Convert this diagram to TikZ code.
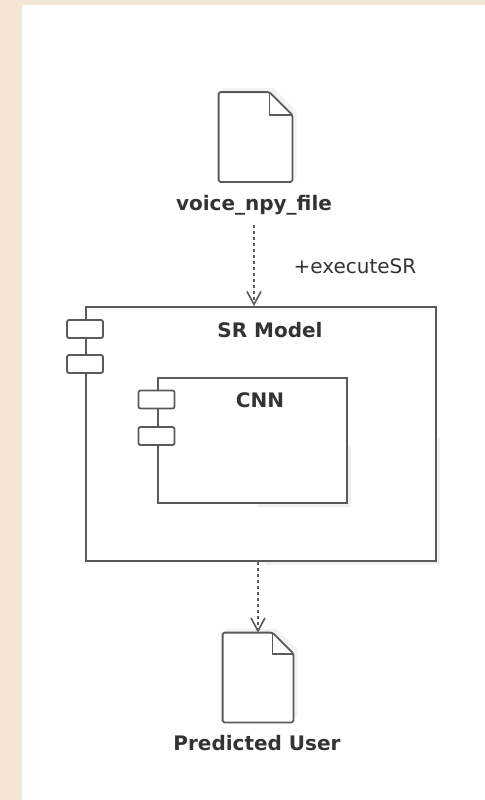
\documentclass[tikz,border=0pt]{standalone}
\usepackage{fontspec}
\setmainfont{DejaVu Sans}
\usetikzlibrary{arrows.meta}
\definecolor{beige}{HTML}{F4E5D4}
\definecolor{umlline}{HTML}{5A5A5A}
\definecolor{umltext}{HTML}{333333}
\begin{document}
\begin{tikzpicture}[x=0.5pt,y=-0.5pt]

\tikzset{artifact/.style={rectangle,inner sep=0pt,draw=none},}
\tikzset{component/.style={rectangle,draw=umlline,line width=0.9pt,fill=white,inner sep=0pt},}
\tikzset{port/.style={rectangle,draw=umlline,line width=0.9pt,fill=white,rounded corners=1pt,minimum width=18pt,minimum height=9pt,inner sep=0pt},}
\tikzset{lbl/.style={text=umltext,font=\bfseries,inner sep=5pt},}
\tikzset{dep/.style={umlline,line width=0.8pt,dash pattern=on 1.5pt off 1.5pt,-{Straight Barb[length=6.5pt,width=7pt,line width=0.8pt]}},}

  % background
  \fill[beige] (0,0) rectangle (485,800);
  \fill[white] (22,5) rectangle (485,800);
  \useasboundingbox (0,0) rectangle (485,800);

  % artifact outline (name, fold)
  \newcommand{\docshape}[2]{
    \fill[black!5] ([shift={(2pt,2pt)}]#1.north west) -- ([shift={(2pt-#2,2pt)}]#1.north east) -- ([shift={(2pt,2pt-#2)}]#1.north east) -- ([shift={(2pt,2pt)}]#1.south east) -- ([shift={(2pt,2pt)}]#1.south west) -- cycle;
    \draw[umlline,line width=0.9pt,fill=white,rounded corners=0.8pt] (#1.north west) -- ([xshift=-#2]#1.north east) -- ([yshift=-#2]#1.north east) -- (#1.south east) -- (#1.south west) -- cycle;
    \draw[umlline,line width=0.9pt] ([xshift=-#2]#1.north east) -- ([xshift=-#2,yshift=-#2]#1.north east) -- ([yshift=-#2]#1.north east);
  }

  \draw (255.5,137) node[artifact,minimum width=36.5pt,minimum height=44.5pt](voice) {};
  \docshape{voice}{11.5pt}
  \draw (254,205) node[lbl](voicelbl) {voice\_npy\_file};

  % SR Model component
  \fill[black!5] (265,438) rectangle (440,565);
  \draw (261,434) node[component,minimum width=175pt,minimum height=127pt](sr) {};
  \draw (270,330) node[lbl,inner sep=0pt](srlbl) {SR Model};
  \draw (85,329) node[port](srp1) {};
  \draw (85,364) node[port](srp2) {};

  % CNN component
  \fill[black!5] (256.5,444.5) rectangle (351,507);
  \draw (252.5,440.5) node[component,minimum width=94.5pt,minimum height=62.5pt](cnn) {};
  \draw (260,400) node[lbl,inner sep=0pt](cnnlbl) {CNN};
  \draw (156.5,399.5) node[port](cnnp1) {};
  \draw (156.5,436) node[port](cnnp2) {};

  \draw (258,677.5) node[artifact,minimum width=35pt,minimum height=44.5pt](pred) {};
  \docshape{pred}{10.5pt}
  \draw (257,743) node[lbl](predlbl) {Predicted User};

  %edges
  \draw[dep] (voicelbl.south) -- (voicelbl.south |- sr.north);
  \draw (355,266) node[text=umltext](exec) {+executeSR};
  \draw[dep] (pred.north |- sr.south) -- (pred.north);

\end{tikzpicture}
\end{document}
